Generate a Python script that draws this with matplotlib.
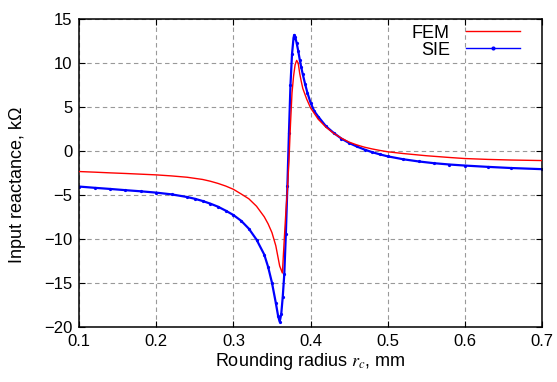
import matplotlib
matplotlib.use("Agg")
import matplotlib.pyplot as plt

# rounding radius (mm) and input reactance (kOhm)
fem_r = [0.10, 0.12, 0.14, 0.16, 0.18, 0.20, 0.22, 0.24, 0.26, 0.27, 0.28, 0.29,
         0.30, 0.31, 0.32, 0.33, 0.34, 0.345, 0.35, 0.355, 0.36, 0.3635, 0.366,
         0.368, 0.370, 0.372, 0.374, 0.376, 0.378, 0.380, 0.382, 0.384, 0.386,
         0.388, 0.390, 0.395, 0.40, 0.41, 0.42, 0.43, 0.44, 0.45, 0.46, 0.47,
         0.48, 0.49, 0.50, 0.52, 0.55, 0.58, 0.60, 0.63, 0.66, 0.70]
fem_x = [-2.35, -2.42, -2.50, -2.57, -2.65, -2.73, -2.85, -3.00, -3.25, -3.45, -3.70, -4.00,
         -4.37, -4.90, -5.45, -6.30, -7.50, -8.30, -9.30, -10.80, -13.10, -13.90, -10.00,
         -7.00, -4.50, -1.20, 3.00, 6.60, 8.50, 9.80, 10.30, 10.00, 8.80,
         7.90, 7.10, 5.90, 4.90, 3.60, 2.70, 2.00, 1.45, 1.00, 0.68, 0.42,
         0.22, 0.05, -0.10, -0.30, -0.55, -0.75, -0.87, -0.97, -1.04, -1.10]

sie_r = [0.10, 0.12, 0.14, 0.16, 0.18, 0.20, 0.22, 0.24, 0.25, 0.26, 0.27, 0.28,
         0.29, 0.30, 0.31, 0.32, 0.33, 0.34, 0.345, 0.35, 0.355, 0.358, 0.360,
         0.362, 0.364, 0.366, 0.368, 0.370, 0.372, 0.374, 0.376, 0.378, 0.379,
         0.380, 0.382, 0.384, 0.386, 0.388, 0.390, 0.393, 0.396, 0.40, 0.405,
         0.41, 0.42, 0.43, 0.44, 0.45, 0.46, 0.47, 0.48, 0.49, 0.50, 0.52,
         0.54, 0.56, 0.58, 0.60, 0.63, 0.66, 0.70]
sie_x = [-4.06, -4.20, -4.33, -4.47, -4.60, -4.75, -4.95, -5.25, -5.45, -5.70, -6.00, -6.35,
         -6.80, -7.30, -7.95, -8.85, -10.10, -11.80, -13.20, -15.00, -17.30, -18.80, -19.45,
         -18.60, -16.60, -14.00, -9.50, -4.00, 2.00, 7.50, 11.00, 12.90, 13.20,
         13.00, 12.30, 11.40, 10.40, 9.50, 8.70, 7.60, 6.60, 5.50, 4.50,
         3.90, 2.80, 2.05, 1.40, 0.90, 0.50, 0.15, -0.15, -0.40, -0.62, -0.95,
         -1.20, -1.40, -1.55, -1.67, -1.82, -1.95, -2.08]

x_ticks = [0.1, 0.2, 0.3, 0.4, 0.5, 0.6, 0.7]
y_ticks = [-20, -15, -10, -5, 0, 5, 10, 15]

plt.rcParams["font.family"] = ["Liberation Sans", "DejaVu Sans"]
plt.rcParams["mathtext.fontset"] = "stix"

fig = plt.figure(figsize=(5.57, 3.82), dpi=100)
ax = fig.add_axes([0.142, 0.145, 0.831, 0.805])

ax.plot(fem_r, fem_x, color="#ff0000", linewidth=1.0, label="FEM", zorder=3)
ax.plot(sie_r, sie_x, color="#0000ff", linewidth=1.6, marker="o", markersize=1.3,
        label="SIE", zorder=2)

ax.set_xlim(0.1, 0.7)
ax.set_ylim(-20, 15)
ax.set_xticks(x_ticks)
ax.set_xticklabels([f"{t:g}" for t in x_ticks])
ax.set_yticks(y_ticks)
ax.grid(True, color="#999999", linestyle=(0, (4, 3)), linewidth=0.8)
ax.tick_params(direction="in", length=4, labelsize=12, top=True, right=True, pad=5)
for spine in ax.spines.values():
    spine.set_linewidth(1.1)

ax.set_xlabel("Rounding radius $r_c$, mm", fontsize=13, labelpad=2)
ax.set_ylabel("Input reactance, k\u03a9", fontsize=13, labelpad=4)
ax.yaxis.set_label_coords(-0.115, 0.46)

leg = ax.legend(loc="upper right", frameon=False, markerfirst=False, fontsize=13,
                handlelength=3.0, borderaxespad=0.2, labelspacing=0.0, numpoints=1,
                handletextpad=0.9, borderpad=0.1, bbox_to_anchor=(0.965, 1.0),
                markerscale=1.5)
for line in leg.get_lines():
    line.set_linewidth(1.0)

fig.savefig("out.png", dpi=100)
